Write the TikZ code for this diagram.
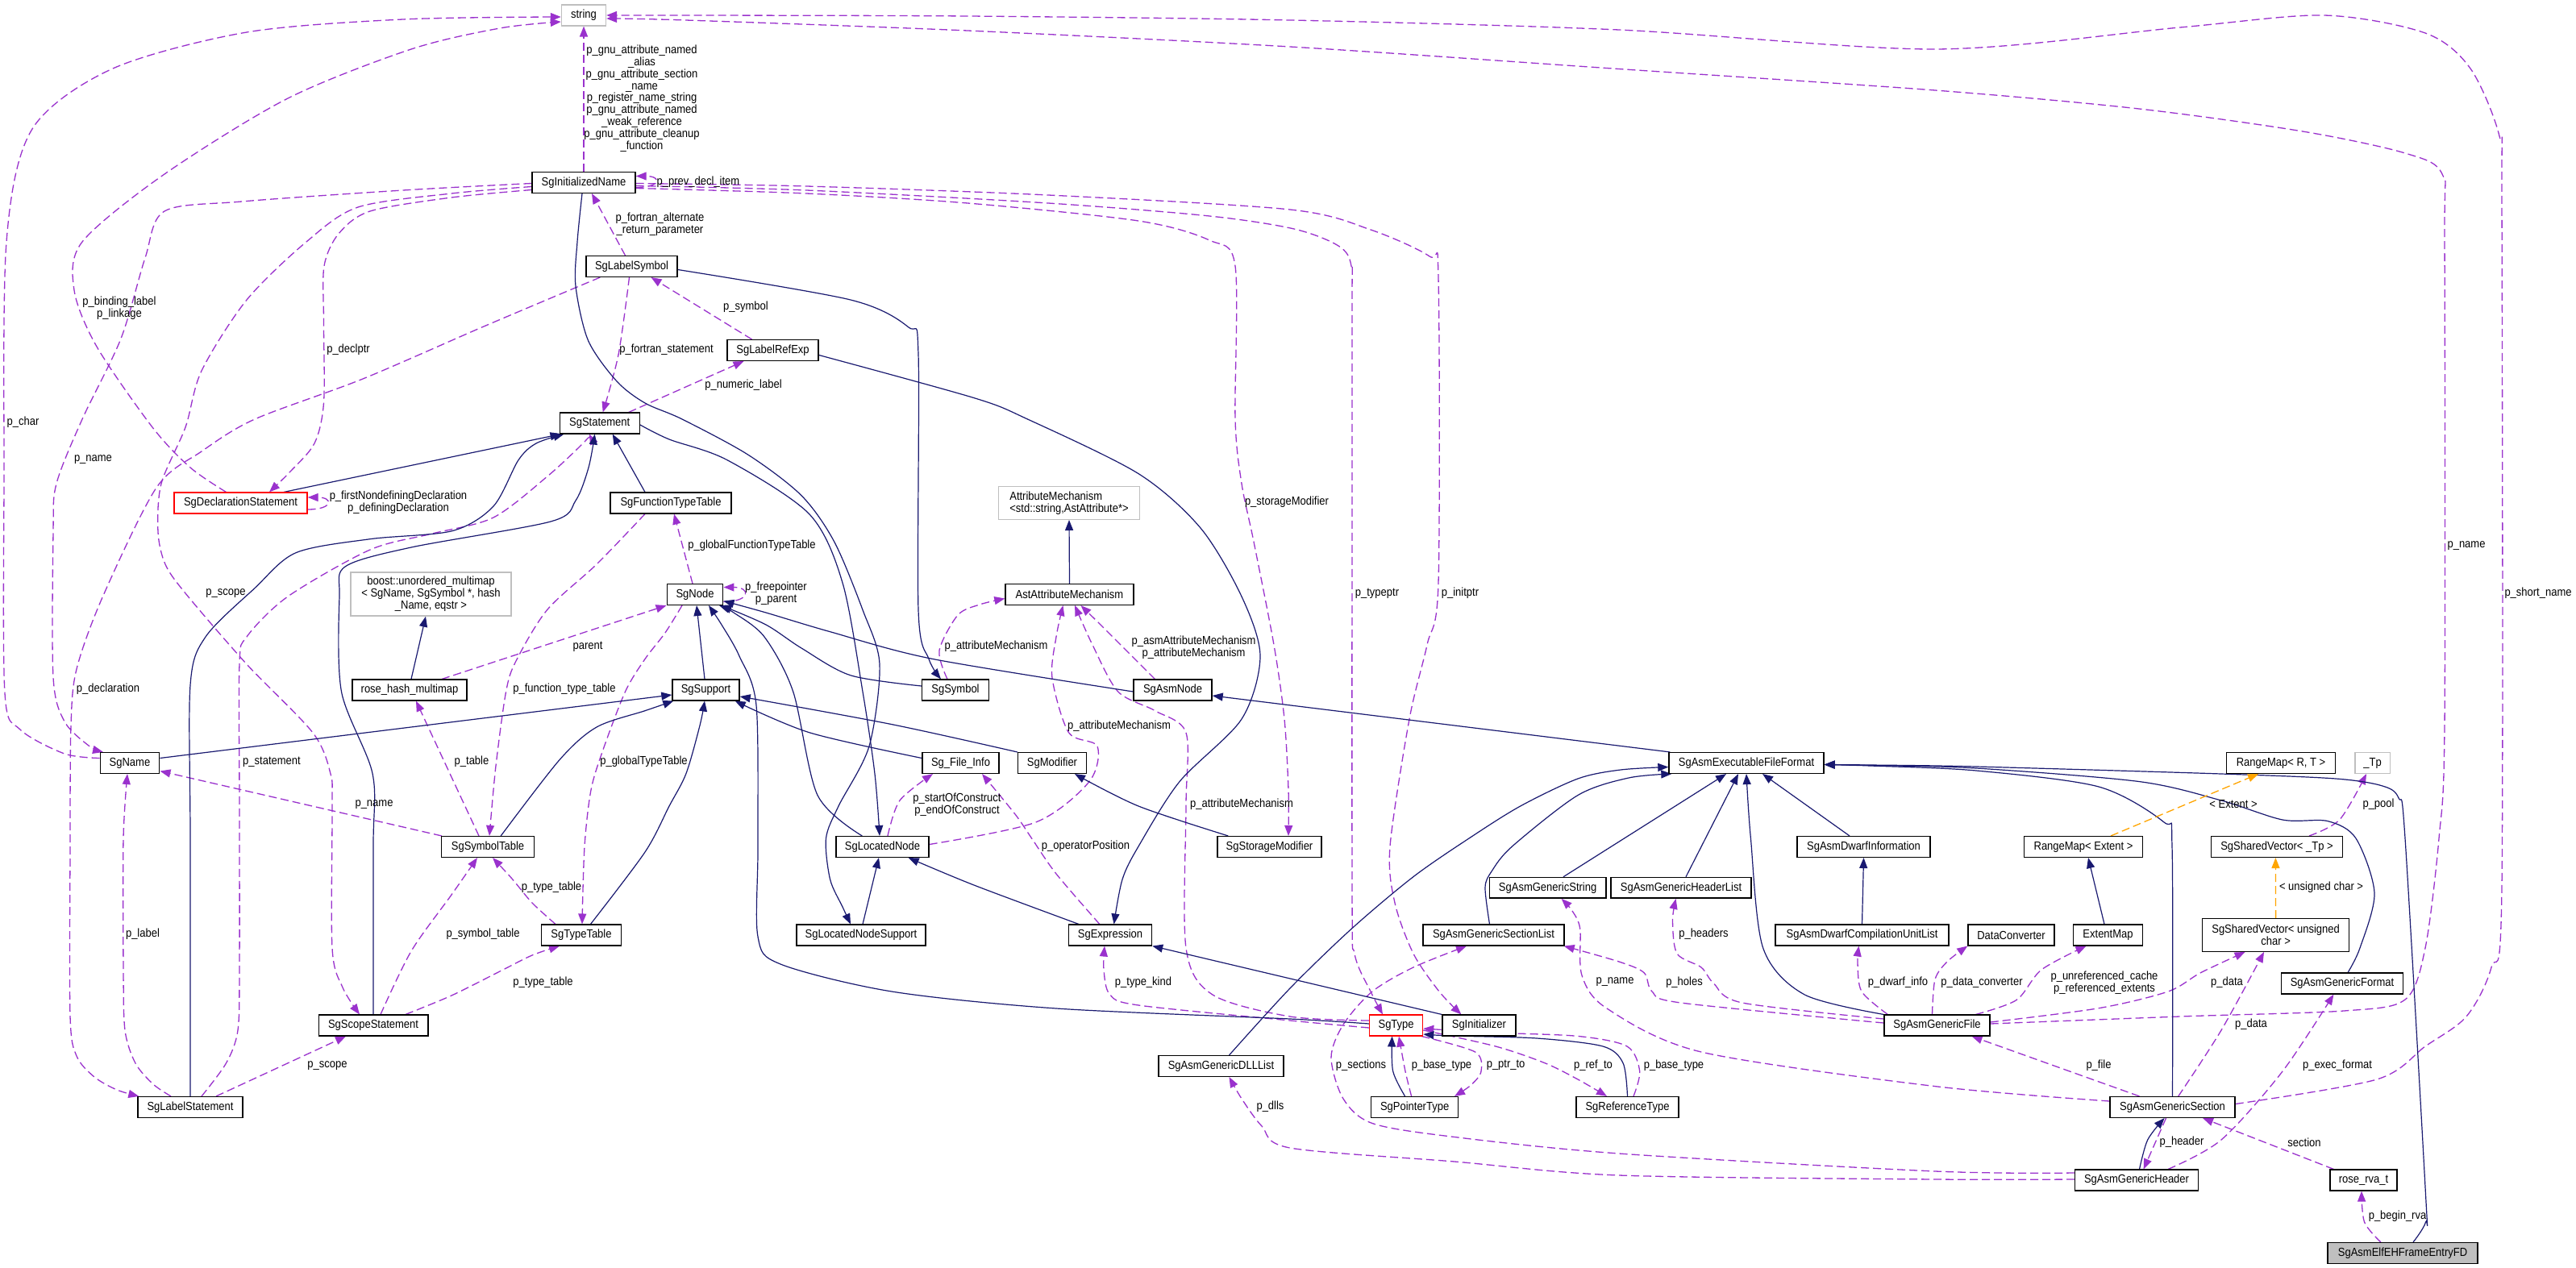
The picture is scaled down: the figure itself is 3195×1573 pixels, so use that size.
\documentclass[tikz,border=0pt]{standalone}
\usepackage{fontspec}
\setmainfont{Liberation Sans}[FakeStretch=0.89]
\usetikzlibrary{arrows.meta}
\definecolor{usec}{HTML}{9A32CD}
\definecolor{inhc}{HTML}{191970}
\definecolor{tplc}{HTML}{FFA500}
\definecolor{extc}{HTML}{BFBFBF}
\newcommand{\dfont}{\fontsize{7.3}{7.4}\selectfont}
\pgfdeclarelayer{bg}\pgfdeclarelayer{edges}\pgfsetlayers{bg,edges,main}
\begin{document}
\begin{tikzpicture}[x=0.5pt,y=-0.5pt,
  cls/.style={draw=black,line width=0.7pt,fill=white,minimum height=12.85pt,inner xsep=1pt,inner ysep=0pt,font=\dfont,align=center},
  extcls/.style={cls,draw=extc},
  redcls/.style={cls,draw=red},
  lbl/.style={font=\dfont,align=center,inner sep=0pt},
  arrowtip/.style={-{Triangle[length=6.5pt,width=5pt]}},
  usee/.style={draw=usec,line width=0.65pt,dash pattern=on 5pt off 2.5pt,arrowtip},
  inhe/.style={draw=inhc,line width=0.6pt,arrowtip},
  tple/.style={draw=tplc,line width=0.65pt,dash pattern=on 5pt off 2.5pt,arrowtip}]
\useasboundingbox (0,0) rectangle (3195,1573);
\begin{pgfonlayer}{bg}\fill[white] (0,0) rectangle (3195,1573);\end{pgfonlayer}

% ---------------- nodes ----------------
\node[extcls,minimum width=27.5pt] (string) at (724,19) {string};
\node[cls,minimum width=64pt] (SgInitializedName) at (724,226.5) {SgInitializedName};
\node[cls,minimum width=56.5pt] (SgLabelSymbol) at (783.5,330.5) {SgLabelSymbol};
\node[cls,minimum width=56.5pt] (SgLabelRefExp) at (958.5,434.5) {SgLabelRefExp};
\node[cls,minimum width=49.5pt] (SgStatement) at (743.7,525) {SgStatement};
\node[redcls,minimum width=82.5pt] (SgDeclarationStatement) at (298.5,624) {SgDeclarationStatement};
\node[cls,minimum width=75pt] (SgFunctionTypeTable) at (832,624) {SgFunctionTypeTable};
\node[extcls,minimum width=99.5pt,minimum height=27pt] (boost) at (534.5,737) {boost::unordered\_multimap\\< SgName, SgSymbol *, hash\\\_Name, eqstr >};
\node[cls,minimum width=71pt] (rosehash) at (508,856) {rose\_hash\_multimap};
\node[cls,minimum width=34.75pt] (SgNode) at (862,737.5) {SgNode};
\node[extcls,minimum width=87.5pt,minimum height=20.3pt,align=left] (AttrMech) at (1326,624) {AttributeMechanism\\<std::string,AstAttribute*>};
\node[cls,minimum width=79.5pt] (AstAttr) at (1326.5,737.5) {AstAttributeMechanism};
\node[cls,minimum width=41.5pt] (SgSupport) at (875.5,856) {SgSupport};
\node[cls,minimum width=41.5pt] (SgSymbol) at (1185,856) {SgSymbol};
\node[cls,minimum width=48.5pt] (SgAsmNode) at (1454.5,856) {SgAsmNode};
\node[cls,minimum width=36.75pt] (SgName) at (161,946.5) {SgName};
\node[cls,minimum width=47.5pt] (SgFileInfo) at (1191.5,946.5) {Sg\_File\_Info};
\node[cls,minimum width=42.5pt] (SgModifier) at (1305,946.5) {SgModifier};
\node[cls,minimum width=96pt] (SAEFF) at (2166,946.5) {SgAsmExecutableFileFormat};
\node[cls,minimum width=67.5pt] (RangeMapRT) at (2829,946.5) {RangeMap< R, T >};
\node[extcls,minimum width=21.8pt] (Tp) at (2942.6,946.5) {\_Tp};
\node[cls,minimum width=57.5pt] (SgSymbolTable) at (605,1050.5) {SgSymbolTable};
\node[cls,minimum width=57.5pt] (SgLocatedNode) at (1094.5,1050.5) {SgLocatedNode};
\node[cls,minimum width=64.5pt] (SgStorageModifier) at (1574.5,1050.5) {SgStorageModifier};
\node[cls,minimum width=82.5pt] (SgAsmDwarfInformation) at (2311.5,1050.5) {SgAsmDwarfInformation};
\node[cls,minimum width=73.5pt] (RangeMapExtent) at (2584,1050.5) {RangeMap< Extent >};
\node[cls,minimum width=81.5pt] (SVTp) at (2824,1050.5) {SgSharedVector< \_Tp >};
\node[cls,minimum width=80pt] (SgLocatedNodeSupport) at (1068,1160) {SgLocatedNodeSupport};
\node[cls,minimum width=51.5pt] (SgExpression) at (1377,1160) {SgExpression};
\node[cls,minimum width=49.75pt] (SgTypeTable) at (721,1160) {SgTypeTable};
\node[cls,minimum width=72.2pt] (SgAsmGenericString) at (1919.6,1101.3) {SgAsmGenericString};
\node[cls,minimum width=87pt] (SgAsmGenericHeaderList) at (2085,1101.3) {SgAsmGenericHeaderList};
\node[cls,minimum width=87.5pt] (SgAsmGenericSectionList) at (1852.5,1160) {SgAsmGenericSectionList};
\node[cls,minimum width=107.5pt] (SgAsmDwarfCUL) at (2309.5,1160) {SgAsmDwarfCompilationUnitList};
\node[cls,minimum width=53.5pt] (DataConverter) at (2494.5,1160) {DataConverter};
\node[cls,minimum width=43pt] (ExtentMap) at (2614.5,1160) {ExtentMap};
\node[cls,minimum width=91pt,minimum height=20.25pt] (SVUC) at (2822.6,1160) {SgSharedVector< unsigned\\char >};
\node[cls,minimum width=67.8pt] (SgScopeStatement) at (463,1272) {SgScopeStatement};
\node[redcls,minimum width=33pt] (SgType) at (1731.6,1272) {SgType};
\node[cls,minimum width=45.5pt] (SgInitializer) at (1834.4,1272) {SgInitializer};
\node[cls,minimum width=65.5pt] (SgAsmGenericFile) at (2402.5,1272) {SgAsmGenericFile};
\node[cls,minimum width=75.3pt] (SgAsmGenericFormat) at (2905,1220) {SgAsmGenericFormat};
\node[cls,minimum width=65pt] (SgLabelStatement) at (236,1373.5) {SgLabelStatement};
\node[cls,minimum width=77.5pt] (SgAsmGenericDLLList) at (1514.5,1322.5) {SgAsmGenericDLLList};
\node[cls,minimum width=54pt] (SgPointerType) at (1754.6,1373.5) {SgPointerType};
\node[cls,minimum width=63.5pt] (SgReferenceType) at (2018.5,1373.5) {SgReferenceType};
\node[cls,minimum width=77.5pt] (SgAsmGenericSection) at (2694.5,1373.5) {SgAsmGenericSection};
\node[cls,minimum width=76.3pt] (SgAsmGenericHeader) at (2650,1464) {SgAsmGenericHeader};
\node[cls,minimum width=41.5pt] (rosrva) at (2931.5,1464) {rose\_rva\_t};
\node[cls,minimum width=93pt,fill=extc] (FD) at (2980,1554.5) {SgAsmElfEHFrameEntryFD};

% ---------------- edges ----------------
\begin{pgfonlayer}{edges}
% usage (purple dashed)
\draw[usee] (SgInitializedName.north) -- (string.south);
\draw[usee] plot[smooth] coordinates {([yshift=3pt]SgName.west) (80,935) (25,905) (6,860) (5,600) (8,300) (40,160) (140,85) (306,40) (500,24) ([yshift=-1pt]string.west)};
\draw[usee] plot[smooth] coordinates {([xshift=-9pt]SgDeclarationStatement.north) (236,580) (189,530) (120,430) (92,360) (102,300) (204,216) (357,122) (510,61) (620,35) ([yshift=-4pt]string.west)};
\draw[usee] plot[smooth] coordinates {([yshift=1pt]SgAsmGenericFile.east) (2704,1261) (2907,1254) (2983,1240) (3008,1176) (3025,1040) (3032,900) (3032,300) (3029,216) (2983,190) (2856,163) (2653,135) (2400,112) (2000,85) (1600,58) (1200,38) (850,25) ([yshift=-2pt]string.east)};
\draw[usee] plot[smooth] coordinates {([yshift=2pt]SgAsmGenericSection.east) (2948,1339) (3008,1298) (3059,1261) (3090,1200) (3103,1100) (3103,250) (3100,169) (3064,85) (3008,41) (2882,19) (2704,34) (2400,61) (2008,37) (1600,25) (1200,20) (850,19) (string.east)};
\draw[usee] ([yshift=-3pt]SgInitializedName.east) .. controls +(16pt,0pt) and +(16pt,0pt) .. ([yshift=4pt]SgInitializedName.east);
\draw[usee] plot[smooth] coordinates {([yshift=-0.5pt]SgInitializedName.west) (500,236) (300,250) (204,262) (180,320) (150,420) (102,520) (70,600) (66,660) (66,840) (80,895) (110,925) ([xshift=-16.5pt]SgName.north)};
\draw[usee] plot[smooth] coordinates {([yshift=-2.5pt]SgInitializedName.west) (560,240) (444,257) (380,300) (306,372) (250,460) (230,530) (200,600) (196,660) (205,700) (230,736) (306,824) (388,909) (410,960) (412,1000) (412,1176) (425,1225) ([xshift=-8.5pt]SgScopeStatement.north)};
\draw[usee] plot[smooth] coordinates {([yshift=-4.5pt]SgInitializedName.west) (560,245) (459,262) (420,290) (402,330) (401.5,400) (401.5,500) (390,550) (360,585) ([xshift=17.75pt]SgDeclarationStatement.north)};
\draw[usee] plot[smooth] coordinates {([xshift=9pt]SgLabelSymbol.south west) (600,405) (450,470) (316,520) (250,560) (194,605) (127.5,740) (95,830) (88,900) (87,1050) (87,1260) (95,1310) (117,1336) (145,1352) ([xshift=1pt]SgLabelStatement.north west)};
\draw[usee] plot[smooth] coordinates {([xshift=-12pt]SgLabelStatement.north) (190,1345) (168,1319) (155,1278) (153,1200) (153,1040) ([xshift=-1.5pt]SgName.south)};
\draw[usee] plot[smooth] coordinates {([xshift=7pt]SgLabelStatement.north) (280.6,1318.7) (295,1278) (297,1200) (297,1000) (297,824) (306,790) (357,740) (459,682) (536,662) (612,642) (680,590) (725,548) ([xshift=-6.4pt]SgStatement.south)};
\draw[usee] plot[smooth] coordinates {([xshift=-1.5pt]SgLabelSymbol.south) (767,440) ([xshift=2pt]SgStatement.north)};
\draw[usee] ([xshift=-4pt]SgLabelSymbol.north) -- ([xshift=5pt]SgInitializedName.south);
\draw[usee] ([xshift=-13pt]SgLabelRefExp.north) -- ([xshift=12pt]SgLabelSymbol.south);
\draw[usee] ([xshift=18pt]SgStatement.north) -- ([xshift=-18pt]SgLabelRefExp.south);
\draw[usee] ([yshift=-4pt]SgDeclarationStatement.east) .. controls +(16pt,0pt) and +(16pt,0pt) .. ([yshift=3.5pt]SgDeclarationStatement.east);
\draw[usee] ([yshift=-4.5pt]SgNode.east) .. controls +(17pt,0pt) and +(17pt,0pt) .. ([yshift=4.5pt]SgNode.east);
\draw[usee] ([xshift=-1.5pt]SgNode.north) -- ([xshift=2pt]SgFunctionTypeTable.south);
\draw[usee] ([xshift=20pt]rosehash.north) -- (SgNode.south west);
\draw[usee] ([xshift=-5.5pt]SgSymbolTable.north) -- ([xshift=4pt]rosehash.south);
\draw[usee] plot[smooth] coordinates {([xshift=-16pt]SgFunctionTypeTable.south) (740,700) (678.6,756.6) (640,820) (627.6,858) (615,950) ([xshift=1pt]SgSymbolTable.north)};
\draw[usee] plot[smooth] coordinates {([xshift=-8pt]SgNode.south) (825,785) (800,817.5) (775.5,858) (748,930) (733,980) (725,1050) ([xshift=0.5pt]SgTypeTable.north)};
\draw[usee] plot[smooth] coordinates {([xshift=-16pt]SgTypeTable.north) (660,1120) (635,1090) ([xshift=3pt]SgSymbolTable.south)};
\draw[usee] plot[smooth] coordinates {([xshift=4.5pt]SgScopeStatement.north) (510,1180) (560,1110) ([xshift=-6.5pt]SgSymbolTable.south)};
\draw[usee] plot[smooth] coordinates {([xshift=20pt]SgScopeStatement.north) (560,1235) (620,1205) (660,1185) ([xshift=-13.5pt]SgTypeTable.south)};
\draw[usee] ([xshift=16pt]SgLabelStatement.north) -- ([xshift=-17pt]SgScopeStatement.south);
\draw[usee] ([xshift=0.5pt]SgSymbolTable.north west) -- ([yshift=-5pt]SgName.east);
\draw[usee] plot[smooth] coordinates {([xshift=-5pt]SgSymbol.north) (1165,807) (1188,763) (1215,750) ([yshift=-2.5pt]AstAttr.west)};
\draw[usee] plot[smooth] coordinates {([xshift=-11pt]SgAsmNode.north) (1390,800) (1365,775) ([xshift=7pt]AstAttr.south)};
\draw[usee] plot[smooth] coordinates {([yshift=1.5pt]SgLocatedNode.east) (1284.7,1020) (1351,969.6) (1361,925.7) (1325.5,908.8) (1305,841) (1310,790) ([xshift=-4pt]AstAttr.south)};
\draw[usee] plot[smooth] coordinates {([yshift=3pt]SgType.west) (1600,1261) (1504,1234) (1471,1176) (1471,1000) (1471,909) (1432.6,881.7) (1386.7,858) (1355,800) ([xshift=3.3pt]AstAttr.south)};
\draw[usee] plot[smooth] coordinates {([yshift=-2pt]SgInitializedName.east) (1000,236) (1300,252) (1500,268) (1605,284) (1660,305) (1676,330) (1677,400) (1677,1100) (1680,1183) (1700,1230) ([xshift=-8.3pt]SgType.north)};
\draw[usee] plot[smooth] coordinates {([yshift=-0.5pt]SgInitializedName.east) (1000,231) (1300,242) (1600,260) (1700,285) (1773,318) (1784,345) (1784,723) (1770,800) (1748,892) (1724,1050) (1730,1120) (1753,1183) (1785,1230) ([xshift=-11pt]SgInitializer.north)};
\draw[usee] plot[smooth] coordinates {([yshift=-3.5pt]SgInitializedName.east) (1000,240) (1200,252) (1412,274) (1500,298) (1532,330) (1532,520) (1540,600) (1555,672) (1580,800) (1593,892) (1598,980) ([xshift=11.75pt]SgStorageModifier.north)};
\draw[usee] plot[smooth] coordinates {([xshift=20pt]SVTp.north) (2902,1016.6) ([xshift=-3.8pt]Tp.south)};
\draw[usee] plot[smooth] coordinates {([xshift=-3pt]SgAsmGenericFile.north) (2400,1215) (2415,1193) (DataConverter.south west)};
\draw[usee] plot[smooth] coordinates {([xshift=2.5pt]SgAsmGenericFile.north west) (2309,1230) (2304,1195) ([xshift=-2pt]SgAsmDwarfCUL.south)};
\draw[usee] plot[smooth] coordinates {([yshift=4pt]SgAsmGenericFile.west) (2161,1244) (2125.5,1220) (2110,1200) (2080,1183) (2074.5,1142) ([xshift=-3.2pt]SgAsmGenericHeaderList.south)};
\draw[usee] plot[smooth] coordinates {([yshift=1.5pt]SgAsmGenericFile.west) (2084.7,1244) (2049,1230) (2039,1206.6) (2008,1193) ([xshift=-0.5pt]SgAsmGenericSectionList.south east)};
\draw[usee] plot[smooth] coordinates {([yshift=3.75pt]SgAsmGenericSection.west) (2400,1347.6) (2110,1305) (1993,1251) (1962,1210) (1959.7,1152) (1950,1130) ([xshift=8.5pt]SgAsmGenericString.south)};
\draw[usee] ([xshift=-20.5pt]SgAsmGenericSection.north) -- ([xshift=21.5pt]SgAsmGenericFile.south);
\draw[usee] plot[smooth] coordinates {([yshift=2pt]SgAsmGenericFile.east) (2603,1250.7) (2689,1230) (2729.6,1206.6) ([xshift=-19pt]SVUC.south)};
\draw[usee] plot[smooth] coordinates {([xshift=3.6pt]SgAsmGenericSection.north) (2755,1278) ([xshift=-7.3pt]SVUC.south)};
\draw[usee] plot[smooth] coordinates {([xshift=24pt]SgAsmGenericFile.north) (2501,1240.5) (2532,1203) ([xshift=-13.5pt]ExtentMap.south)};
\draw[usee] plot[smooth] coordinates {([xshift=19.5pt]SgAsmGenericHeader.north) (2755,1414) (2831,1329) ([xshift=-5.3pt]SgAsmGenericFormat.south)};
\draw[usee] ([xshift=-4pt]SgAsmGenericSection.south) -- ([xshift=4.3pt]SgAsmGenericHeader.north);
\draw[usee] ([xshift=-18.5pt]rosrva.north) -- ([xshift=18.75pt]SgAsmGenericSection.south);
\draw[usee] plot[smooth] coordinates {([xshift=-13.6pt]FD.north) (2932.5,1516) ([xshift=-1.25pt]rosrva.south)};
\draw[usee] plot[smooth] coordinates {([yshift=0.5pt]SgAsmGenericHeader.west) (2400,1463) (2008,1458) (1804,1441) (1600,1424) (1565,1397) (1540,1363) ([xshift=5pt]SgAsmGenericDLLList.south)};
\draw[usee] plot[smooth] coordinates {([yshift=4.5pt]SgAsmGenericHeader.west) (2400,1453) (2008,1431) (1800,1410) (1702,1393.5) (1666,1363) (1651,1312) (1666,1271) (1702,1230) (1753,1200) ([xshift=-16.75pt]SgAsmGenericSectionList.south)};
\draw[usee] plot[smooth] coordinates {([xshift=-2pt]SgPointerType.north) (1743,1329) ([xshift=1.7pt]SgType.south)};
\draw[usee] plot[smooth] coordinates {([xshift=-1pt]SgType.south east) (1829.6,1305) (1837,1329) (1824.5,1346) ([xshift=24.7pt]SgPointerType.north)};
\draw[usee] plot[smooth] coordinates {([yshift=-3pt]SgType.east) (1855,1298) (1916,1318.7) (1957,1339) ([xshift=-12.75pt]SgReferenceType.north)};
\draw[usee] plot[smooth] coordinates {([xshift=3.75pt]SgReferenceType.north) (2033.7,1329) (2018,1298) (1957,1285.4) (1850,1281) ([yshift=-2pt]SgType.east)};
\draw[usee] plot[smooth] coordinates {([yshift=-1.5pt]SgType.west) (1600,1266) (1412,1247) (1376.5,1233.7) (1369,1203) ([xshift=-3.5pt]SgExpression.south)};
\draw[usee] plot[smooth] coordinates {([xshift=-6.6pt]SgExpression.north) (1310,1084) (1279.6,1040) (1259,1010) ([xshift=13.25pt]SgFileInfo.south)};
\draw[usee] plot[smooth] coordinates {([xshift=3.25pt]SgLocatedNode.north) (1116,993) ([xshift=-17.25pt]SgFileInfo.south)};

% inheritance (blue solid)
\draw[inhe] ([xshift=26.75pt]SgDeclarationStatement.north) -- ([xshift=1pt]SgStatement.south west);
\draw[inhe] ([xshift=-16pt]SgFunctionTypeTable.north) -- ([xshift=8pt]SgStatement.south);
\draw[inhe] plot[smooth] coordinates {(SgLabelStatement.north) (236,1040) (236,850) (255,790) (316,729.6) (367,685.7) (459,668.7) (561,658.6) (612,628) (643,570.7) (665,550) ([xshift=3pt]SgStatement.south west)};
\draw[inhe] plot[smooth] coordinates {(SgScopeStatement.north) (463,1050) (462,959.5) (423.5,858) (421,740) (428.6,702.6) (510,679) (683.7,646.8) (714,621) (730,580) ([xshift=-3pt]SgStatement.south)};
\draw[inhe] plot[smooth] coordinates {([yshift=-1pt]SgStatement.east) (830,545) (902,570.7) (1004,638) (1045,723) (1070,858) (1085,960) ([xshift=-1.75pt]SgLocatedNode.north)};
\draw[inhe] plot[smooth] coordinates {([xshift=-1pt]SgInitializedName.south) (716,300) (714,355) (729.6,422.6) (765,473) (800,500) (846,520) (927.6,564) (994,614.7) (1034.7,672) (1070,756.6) (1091,824) (1078,925.7) (1040,1000) (1024.5,1040) (1029.6,1091) (1045,1125) ([xshift=-6.5pt]SgLocatedNodeSupport.north)};
\draw[inhe] ([xshift=1pt]SgLocatedNodeSupport.north) -- ([xshift=-2.25pt]SgLocatedNode.south);
\draw[inhe] plot[smooth] coordinates {([xshift=-19.5pt]SgExpression.north) (1208,1098) ([xshift=-13pt]SgLocatedNode.south east)};
\draw[inhe] plot[smooth] coordinates {([yshift=-3pt]SgLabelRefExp.east) (1208,493.6) (1274.5,520) (1412,587.6) (1489,655) (1540,740) (1563,814) (1540,892) (1463,969.6) (1412,1050) (1392,1091) ([xshift=2.3pt]SgExpression.north)};
\draw[inhe] plot[smooth] coordinates {([yshift=-2pt]SgLabelSymbol.east) (1055,372) (1126.5,405.7) (1139,439.5) (1139,756.6) (1152,817.5) ([xshift=-9pt]SgSymbol.north)};
\draw[inhe] ([xshift=-0.75pt]SgSupport.north) -- ([xshift=1pt]SgNode.south);
\draw[inhe] plot[smooth] coordinates {([yshift=1pt]SgType.west) (1600,1264) (1310,1251) (1106,1230) (968,1196) (940,1162) (940,1050) (938,875) (917,814) (895,775) ([xshift=8.5pt]SgNode.south)};
\draw[inhe] plot[smooth] coordinates {([xshift=16.5pt]SgLocatedNode.north west) (1014,986.5) (983.7,858) (948,790) (910,760) ([xshift=15pt]SgNode.south)};
\draw[inhe] plot[smooth] coordinates {([yshift=2.5pt]SgSymbol.west) (1055,837.8) (994,804) (950,775) ([xshift=-1.5pt]SgNode.south east)};
\draw[inhe] plot[smooth] coordinates {([yshift=-1pt]SgAsmNode.west) (1157,817.5) (1029.6,783.7) (950,760) ([yshift=-4pt]SgNode.east)};
\draw[inhe] ([yshift=3pt]SgName.east) -- ([yshift=-3pt]SgSupport.west);
\draw[inhe] plot[smooth] coordinates {([xshift=-21pt]SgSymbolTable.north east) (694,942.6) (740,902) (800,881.7) ([xshift=1pt]SgSupport.south west)};
\draw[inhe] plot[smooth] coordinates {([xshift=-19.5pt]SgTypeTable.north east) (800,1057) (830,1000) (851,959.5) (868,900) ([xshift=-0.75pt]SgSupport.south)};
\draw[inhe] plot[smooth] coordinates {([yshift=3pt]SgFileInfo.west) (1004,908.8) ([xshift=-3pt]SgSupport.south east)};
\draw[inhe] plot[smooth] coordinates {(SgModifier.north west) (1106,898.6) ([yshift=-4pt]SgSupport.east)};
\draw[inhe] plot[smooth] coordinates {([xshift=7pt]SgStorageModifier.north west) (1412,1000) ([xshift=14pt]SgModifier.south)};
\draw[inhe] ([xshift=1pt]rosehash.north) -- ([xshift=-3.25pt]boost.south);
\draw[inhe] (AstAttr.north) -- (AttrMech.south);
\draw[inhe] ([xshift=1pt]SAEFF.north west) -- ([yshift=-3.5pt]SgAsmNode.east);
\draw[inhe] plot[smooth] coordinates {([xshift=5pt]SgAsmGenericDLLList.north) (1600,1226) (1676.5,1152) (1753,1087.6) (1822,1040) (1885.7,1000) (1957,966) (2010,955) ([yshift=-2.5pt]SAEFF.west)};
\draw[inhe] plot[smooth] coordinates {([xshift=-2.5pt]SgAsmGenericSectionList.north) (1842,1101) (1850,1081) (1875.5,1050) (1957,986.5) (2020,965) ([xshift=2pt]SAEFF.south west)};
\draw[inhe] ([xshift=9.7pt]SgAsmGenericString.north) -- ([xshift=-12.5pt]SAEFF.south);
\draw[inhe] ([xshift=3pt]SgAsmGenericHeaderList.north) -- ([xshift=-5pt]SAEFF.south);
\draw[inhe] plot[smooth] coordinates {(SgAsmGenericFile.north west) (2237.8,1233.7) (2186.7,1176) (2171.4,1040) (SAEFF.south)};
\draw[inhe] ([xshift=-8.75pt]SgAsmDwarfInformation.north) -- ([xshift=10pt]SAEFF.south);
\draw[inhe] (SgAsmDwarfCUL.north) -- (SgAsmDwarfInformation.south);
\draw[inhe] plot[smooth] coordinates {(SgAsmGenericSection.north) (2694,1050) (2684,1020) (2603,976) (2451,956) (2320,950) ([yshift=-1pt]SAEFF.east)};
\draw[inhe] plot[smooth] coordinates {([xshift=3.5pt]SgAsmGenericFormat.north) (2927,1176) (2945,1108) (2922,1040) (2887,1018.6) (2831,1017) (2755,993) (2653.5,969.6) (2451,953) (2320,949.5) ([yshift=-1pt]SAEFF.east)};
\draw[inhe] plot[smooth] coordinates {([xshift=6.5pt]FD.north) (3008.5,1516) (3008.5,1482) (2983,1040) (2975,990) (2955,975) (2897,966) (2755,960) (2451,951) (2320,949) ([yshift=-1pt]SAEFF.east)};
\draw[inhe] plot[smooth] coordinates {([xshift=-6pt]SgPointerType.north) (1727.6,1328.6) ([xshift=-2.5pt]SgType.south)};
\draw[inhe] plot[smooth] coordinates {(SgReferenceType.north) (2013,1318.7) (1988,1298) (1906,1288) (1800,1285) ([yshift=-5.5pt]SgType.east)};
\draw[inhe] plot[smooth] coordinates {([xshift=1.75pt]SgAsmGenericHeader.north) (2663.7,1414) ([xshift=-5pt]SgAsmGenericSection.south)};
\draw[inhe] (SgInitializer.north west) -- (SgExpression.south east);
\draw[inhe] ([xshift=-2.25pt]ExtentMap.north) -- ([xshift=3pt]RangeMapExtent.south);

% template instances (orange dashed)
\draw[tple] ([xshift=17pt]RangeMapExtent.north) -- ([xshift=-14pt]RangeMapRT.south);
\draw[tple] (SVUC.north) -- ([xshift=-0.8pt]SVTp.south);
\end{pgfonlayer}

% ---------------- labels ----------------
\node[lbl] (l1) at (796,122) {p\_gnu\_attribute\_named\\\_alias\\p\_gnu\_attribute\_section\\\_name\\p\_register\_name\_string\\p\_gnu\_attribute\_named\\\_weak\_reference\\p\_gnu\_attribute\_cleanup\\\_function};
\node[lbl] (l2) at (28.5,524) {p\_char};
\node[lbl] (l3) at (148,382) {p\_binding\_label\\p\_linkage};
\node[lbl] (l4) at (3059,677) {p\_name};
\node[lbl] (l5) at (3148,736) {p\_short\_name};
\node[lbl] (l6) at (866,226) {p\_prev\_decl\_item};
\node[lbl] (l7) at (115.5,570) {p\_name};
\node[lbl] (l8) at (280,736) {p\_scope};
\node[lbl] (l9) at (432,434) {p\_declptr};
\node[lbl] (l10) at (134,855) {p\_declaration};
\node[lbl] (l11) at (177,1159) {p\_label};
\node[lbl] (l12) at (337,945) {p\_statement};
\node[lbl] (l13) at (826.5,434) {p\_fortran\_statement};
\node[lbl] (l14) at (818.5,278) {p\_fortran\_alternate\\\_return\_parameter};
\node[lbl] (l15) at (925,381) {p\_symbol};
\node[lbl] (l16) at (922,478) {p\_numeric\_label};
\node[lbl] (l17) at (494,623) {p\_firstNondefiningDeclaration\\p\_definingDeclaration};
\node[lbl] (l18) at (962.5,736) {p\_freepointer\\p\_parent};
\node[lbl] (l19) at (932.5,676.5) {p\_globalFunctionTypeTable};
\node[lbl] (l20) at (729,802.6) {parent};
\node[lbl] (l21) at (585,945) {p\_table};
\node[lbl] (l22) at (700,855) {p\_function\_type\_table};
\node[lbl] (l23) at (798.5,945) {p\_globalTypeTable};
\node[lbl] (l24) at (684,1100.5) {p\_type\_table};
\node[lbl] (l25) at (599,1158.6) {p\_symbol\_table};
\node[lbl] (l26) at (673.5,1218.5) {p\_type\_table};
\node[lbl] (l27) at (406,1322) {p\_scope};
\node[lbl] (l28) at (464,997.7) {p\_name};
\node[lbl] (l29) at (1235.5,802) {p\_attributeMechanism};
\node[lbl] (l30) at (1480.6,803) {p\_asmAttributeMechanism\\p\_attributeMechanism};
\node[lbl] (l31) at (1388,901) {p\_attributeMechanism};
\node[lbl] (l32) at (1540,997.7) {p\_attributeMechanism};
\node[lbl] (l33) at (1708,736) {p\_typeptr};
\node[lbl] (l34) at (1811,736) {p\_initptr};
\node[lbl] (l35) at (1596,623) {p\_storageModifier};
\node[lbl] (l36) at (2950,997.7) {p\_pool};
\node[lbl] (l37) at (2458,1218.5) {p\_data\_converter};
\node[lbl] (l38) at (2354,1218.5) {p\_dwarf\_info};
\node[lbl] (l39) at (2113,1158.6) {p\_headers};
\node[lbl] (l40) at (2089,1218.5) {p\_holes};
\node[lbl] (l41) at (2003,1218.5) {p\_name};
\node[lbl] (l42) at (2603,1321.4) {p\_file};
\node[lbl] (l43) at (2762,1218.5) {p\_data};
\node[lbl] (l44) at (2792,1270.5) {p\_data};
\node[lbl] (l45) at (2610,1219) {p\_unreferenced\_cache\\p\_referenced\_extents};
\node[lbl] (l46) at (2899,1321.4) {p\_exec\_format};
\node[lbl] (l47) at (2706,1417) {p\_header};
\node[lbl] (l48) at (2858,1417) {section};
\node[lbl] (l49) at (2973.5,1508.4) {p\_begin\_rva};
\node[lbl] (l50) at (1575.5,1372.4) {p\_dlls};
\node[lbl] (l51) at (1688,1321.4) {p\_sections};
\node[lbl] (l52) at (1788,1321.4) {p\_base\_type};
\node[lbl] (l53) at (1867.6,1321.4) {p\_ptr\_to};
\node[lbl] (l54) at (1976,1321.4) {p\_ref\_to};
\node[lbl] (l55) at (2076,1321.4) {p\_base\_type};
\node[lbl] (l56) at (1418,1218.5) {p\_type\_kind};
\node[lbl] (l57) at (1346.5,1049.5) {p\_operatorPosition};
\node[lbl] (l58) at (1187,998) {p\_startOfConstruct\\p\_endOfConstruct};
\node[lbl] (l59) at (2770,997.7) {< Extent >};
\node[lbl] (l60) at (2879,1100.5) {< unsigned char >};
\end{tikzpicture}
\end{document}
